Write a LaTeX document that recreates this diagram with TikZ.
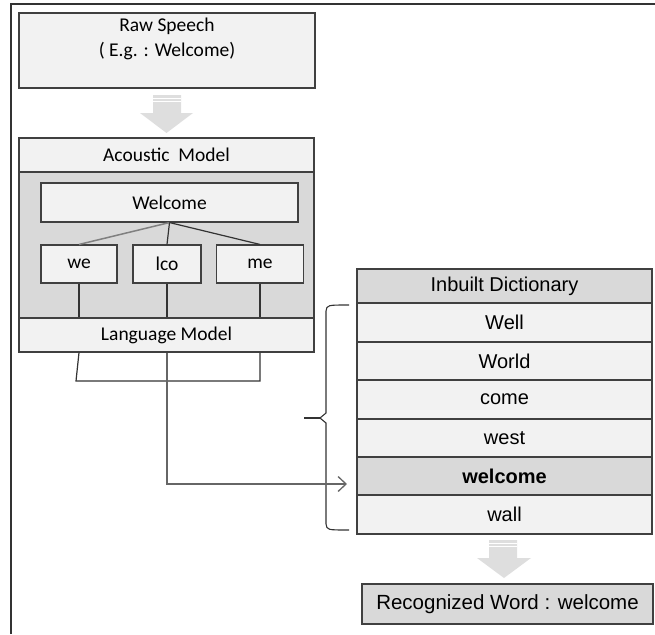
\documentclass[tikz,border=0pt]{standalone}
\usepackage{fontspec}
\setmainfont{Carlito}
\newfontfamily\arialf{Liberation Sans}
\usetikzlibrary{arrows.meta}
\definecolor{lightf}{HTML}{F2F2F2}
\definecolor{midf}{HTML}{D9D9D9}
\definecolor{boxc}{HTML}{404040}
\definecolor{arrf}{HTML}{DEDEDE}
\definecolor{linec}{HTML}{333333}
\definecolor{grayline}{HTML}{808080}
\tikzset{
  box/.style={draw=boxc, line width=1.1pt, fill=lightf, inner sep=0pt, font=\fontsize{19.5}{22}\selectfont},
  dbox/.style={box, fill=midf},
  drow/.style={box, minimum width=295pt, font=\arialf\fontsize{20}{22}\selectfont},
  conn/.style={draw=linec, line width=1.2pt},
  blockarrow/.style={fill=arrf, draw=none},
}
\begin{document}
\begin{tikzpicture}[x=1pt,y=-1pt]
\useasboundingbox (0,0) rectangle (655,634);
% partial frame
\draw[linec, line width=1.6pt] (11,634) -- (11,4) -- (655,4);

% Raw speech
\node[box, minimum width=296pt, minimum height=75pt] (raw) at (167,50.5) {};
\node[align=center, inner sep=0pt, font=\fontsize{19.5}{25}\selectfont] (rawtxt) at (167,39) {Raw Speech\\( E.g. : Welcome)};

% block arrow 1
\fill[blockarrow] (153,95) -- (181,95) -- (181,113) -- (193,113) -- (166.5,133) -- (140,113) -- (153,113) -- cycle;
\draw[white, line width=0.6pt] (153,98) -- (181,98) (153,101) -- (181,101);

% Acoustic model
\node[box, minimum width=295pt, minimum height=146pt, fill=midf] (amg) at (166.5,245) {};
\node[box, minimum width=295pt, minimum height=34pt] (am) at (166.5,155) {Acoustic\ \ Model};
\node[box, minimum width=295pt, minimum height=34pt] (lm) at (166.5,335) {Language Model};
\node[box, minimum width=257pt, minimum height=39pt] (wel) at (169.5,202.5) {Welcome};
\node[box, minimum width=76pt, minimum height=38pt] (we) at (79,264) {we};
\node[box, minimum width=68pt, minimum height=38pt] (lco) at (167,264) {lco};
\node[box, minimum width=87pt, minimum height=38pt] (me) at (260,264) {me};

\draw[grayline, line width=1.5pt] (wel.south) -- (we.north);
\draw[conn] (wel.south) -- (lco.north);
\draw[conn] (wel.south) -- (me.north);
\draw[conn] (we.south) -- (we.south |- lm.north);
\draw[conn] (lco.south) -- (lco.south |- lm.north);
\draw[conn] (me.south) -- (me.south |- lm.north);
\draw[conn] (we.south |- lm.south) -- (76,381) -- (260,381) -- (me.south |- lm.south);

% Dictionary
\node[drow, fill=midf, minimum height=34pt] (dhdr) at (504.5,286) {Inbuilt Dictionary};
\node[drow, minimum height=39pt] (dwell) at (504.5,322.5) {Well};
\node[drow, minimum height=38pt] (dworld) at (504.5,361) {World};
\node[drow, minimum height=39pt] (dcome) at (504.5,399.5) {come};
\node[drow, minimum height=38pt] (dwest) at (504.5,438) {west};
\node[drow, fill=midf, minimum height=38pt, font=\arialf\bfseries\fontsize{20}{22}\selectfont] (dwelc) at (504.5,476) {welcome};
\node[drow, minimum height=39pt] (dwall) at (504.5,514.5) {wall};

% brace
\draw[linec, line width=1.1pt] (349,305) .. controls (327,305) .. (326,311) -- (326,413) -- (320,418) -- (326,423) -- (326,524) .. controls (327,530) .. (349,530);
\draw[linec, line width=1.1pt] (304,418) -- (320,418);

% arrow from lco to dictionary
\coordinate (arrend) at (347,484);
\draw[draw=grayline!80!black, line width=1.3pt, -{Straight Barb[length=8pt,width=15pt,line width=1.3pt]}] (lco.south |- lm.south) -- (lco.south |- arrend) -- (arrend);

% block arrow 2
\fill[blockarrow] (489,540) -- (517,540) -- (517,558) -- (531,558) -- (504,578) -- (477,558) -- (489,558) -- cycle;
\draw[white, line width=0.6pt] (489,543) -- (517,543) (489,546) -- (517,546);

% recognized word
\node[box, fill=midf, minimum width=291pt, minimum height=40pt, font=\arialf\fontsize{20.5}{22}\selectfont] (rec) at (507.5,604) {Recognized Word : welcome};
\end{tikzpicture}
\end{document}
